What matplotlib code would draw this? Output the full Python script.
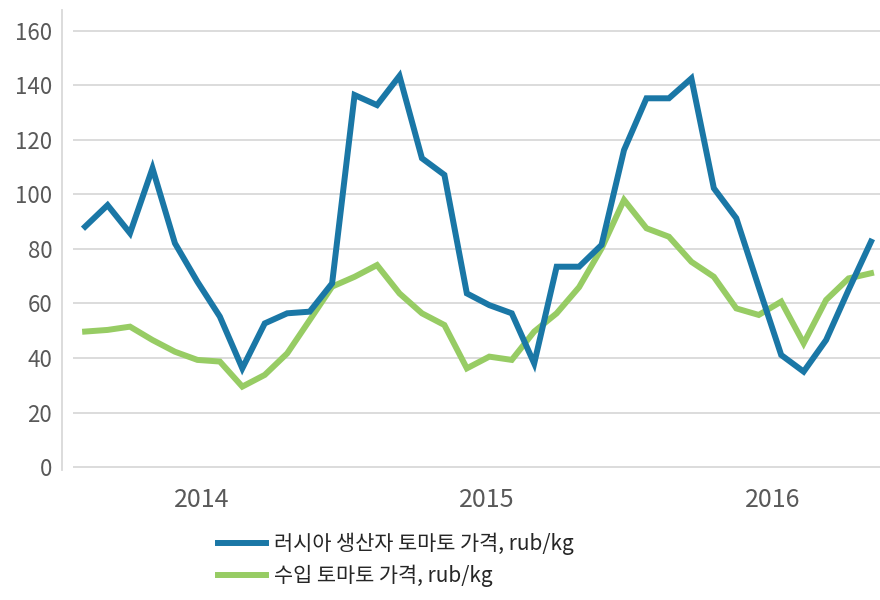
import matplotlib

matplotlib.use("Agg")
import matplotlib.pyplot as plt

plt.rcParams["font.family"] = ["Noto Sans CJK KR", "DejaVu Sans"]

# monthly prices, rub/kg
russian_price = [
    88.2, 96.1, 85.8, 109.6, 82.1, 68.0, 55.2, 36.2, 52.7, 56.4, 57.0, 67.4,
    136.5, 132.8, 143.5, 113.3, 107.2, 63.7, 59.4, 56.4, 38.0, 73.5, 73.5, 81.5,
    116.3, 135.3, 135.3, 142.6, 102.3, 91.3, 66.0, 41.1, 35.0, 46.6, 65.0, 82.7,
]
import_price = [
    49.7, 50.3, 51.5, 46.6, 42.3, 39.3, 38.7, 29.5, 33.8, 41.7, 53.9, 66.2,
    69.8, 74.1, 63.7, 56.4, 52.1, 36.2, 40.5, 39.3, 49.7, 56.4, 66.0, 80.2,
    98.0, 87.6, 84.5, 75.3, 69.8, 58.2, 55.8, 60.7, 45.4, 61.3, 69.2, 71.1,
]
year_labels = ["2014", "2015", "2016"]
year_pos = [5.2, 17.9, 30.6]
y_ticks = [0, 20, 40, 60, 80, 100, 120, 140, 160]
labels = ["러시아 생산자 토마토 가격, rub/kg", "수입 토마토 가격, rub/kg"]

BLUE = "#1a77a6"
GREEN = "#97cc64"

fig = plt.figure(figsize=(8.8, 6.0), dpi=100)
ax = fig.add_axes([73 / 880, 130 / 600, 807 / 880, 460 / 600])

x = list(range(len(russian_price)))
l1, = ax.plot(x, russian_price, color=BLUE, lw=4.3, solid_joinstyle="miter")
l2, = ax.plot(x, import_price, color=GREEN, lw=4.3, solid_joinstyle="miter")
# blue drawn on top like the reference
l1.set_zorder(3)
l2.set_zorder(2)

ax.set_xlim(-0.54, 35.4)
ax.set_ylim(-1.1, 167.7)
ax.set_yticks(y_ticks)
ax.set_xticks(year_pos)
ax.set_xticklabels(year_labels)
ax.grid(axis="y", color="#d9d9d9", lw=1.3)
ax.set_axisbelow(True)

for s in ("top", "right", "bottom"):
    ax.spines[s].set_visible(False)
ax.spines["left"].set_position(("outward", 8))
ax.spines["left"].set_color("#d9d9d9")
ax.spines["left"].set_linewidth(1.3)

ax.tick_params(axis="y", length=0, pad=7, labelsize=16, labelcolor="#595959")
ax.tick_params(axis="x", length=0, pad=12, labelsize=18, labelcolor="#595959")

fig.legend(
    [l1, l2], labels,
    loc="upper left", bbox_to_anchor=(218 / 880, 1 - 533 / 600),
    frameon=False, fontsize=15, labelcolor="#262626",
    handlelength=2.3, handletextpad=0.4, labelspacing=0.45,
    borderaxespad=0, borderpad=0,
)

fig.savefig("out.png", dpi=100, facecolor="white")
